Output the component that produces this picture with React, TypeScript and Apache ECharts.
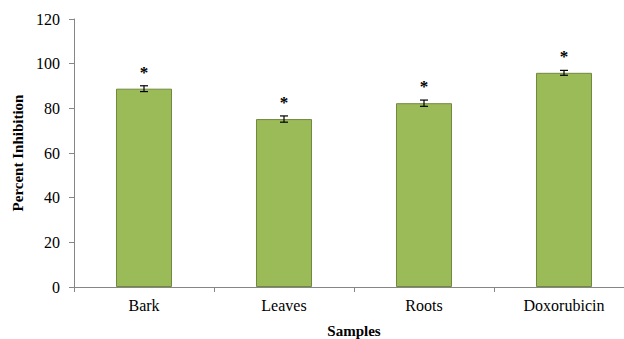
import React, { useEffect, useRef } from "react";
import * as echarts from "echarts";

const categories = ["Bark", "Leaves", "Roots", "Doxorubicin"];
const values = [88.8, 75.2, 82.3, 95.9];
const errors = [1.3, 1.4, 1.4, 1.1];
const yTicks = [0, 20, 40, 60, 80, 100, 120];

const FONT = "Liberation Serif";

export default function App() {
  const ref = useRef<HTMLDivElement>(null);
  useEffect(() => {
    if (!ref.current) return;
    const chart = echarts.init(ref.current, undefined, { renderer: "svg" });
    const errData = categories.map((_, i) => [i, values[i] - errors[i], values[i] + errors[i]]);
    chart.setOption({
      animation: false,
      backgroundColor: "#ffffff",
      grid: { left: 74, top: 19, bottom: 52, width: 560, containLabel: false, outerBoundsMode: "none" },
      xAxis: {
        type: "category",
        data: categories,
        name: "Samples",
        nameLocation: "middle",
        nameGap: 36,
        nameTextStyle: { fontFamily: FONT, fontWeight: "bold", fontSize: 15, color: "#000" },
        axisLine: { lineStyle: { color: "#868686", width: 1 } },
        axisTick: { show: true, length: 5, lineStyle: { color: "#868686" } },
        axisLabel: { fontFamily: FONT, fontSize: 16, color: "#000", margin: 10 },
      },
      yAxis: {
        type: "value",
        min: yTicks[0],
        max: yTicks[yTicks.length - 1],
        interval: 20,
        name: "Percent Inhibition",
        nameLocation: "middle",
        nameGap: 48,
        nameTextStyle: { fontFamily: FONT, fontWeight: "bold", fontSize: 15, color: "#000" },
        axisLine: { show: true, lineStyle: { color: "#868686", width: 1 } },
        axisTick: { show: true, length: 5, lineStyle: { color: "#868686" } },
        axisLabel: { fontFamily: FONT, fontSize: 16, color: "#000", margin: 14 },
        splitLine: { show: false },
      },
      series: [
        {
          type: "bar",
          data: values,
          barWidth: "40%",
          itemStyle: { color: "#9BBB59", borderColor: "#71893F", borderWidth: 1 },
          label: {
            show: true,
            position: "top",
            distance: 8,
            formatter: "*",
            fontFamily: FONT,
            fontWeight: "bold",
            fontSize: 17,
            color: "#000",
          },
        },
        {
          type: "custom",
          data: errData,
          z: 5,
          renderItem: (params: any, api: any) => {
            const x = api.value(0);
            const lo = api.coord([x, api.value(1)]);
            const hi = api.coord([x, api.value(2)]);
            const cap = 4;
            const style = { stroke: "#000", lineWidth: 1.2 };
            return {
              type: "group",
              children: [
                { type: "line", shape: { x1: lo[0], y1: lo[1], x2: hi[0], y2: hi[1] }, style },
                { type: "line", shape: { x1: lo[0] - cap, y1: lo[1], x2: lo[0] + cap, y2: lo[1] }, style },
                { type: "line", shape: { x1: hi[0] - cap, y1: hi[1], x2: hi[0] + cap, y2: hi[1] }, style },
              ],
            };
          },
        },
      ],
    });
    return () => chart.dispose();
  }, []);
  return <div ref={ref} style={{ width: 624, height: 339, position: "absolute", left: 0, top: 0 }} />;
}
